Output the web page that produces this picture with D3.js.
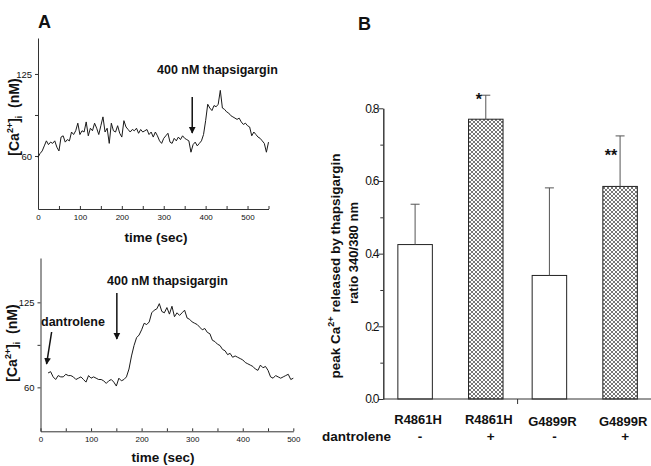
<!DOCTYPE html>
<html>
<head>
<meta charset="utf-8">
<script src="https://cdn.jsdelivr.net/npm/d3@7"></script>
<style>
  body { margin: 0; background: #fff; }
  svg text { font-family: "Liberation Sans", Arial, sans-serif; fill: #111; }
  .bold { font-weight: bold; }
</style>
</head>
<body>
<svg id="chart" width="651" height="466"></svg>
<script>
// ---- data, panel A (top trace, no dantrolene), sampled every 5 s from t = 0
const topStart = 0, topStep = 5;
const topCa = [59, 62, 64, 68, 72, 69, 71, 70, 72, 67, 64, 75, 76, 71, 73, 72, 79, 77, 80, 86,
  77, 80, 79, 87, 76, 82, 80, 86, 82, 77, 84, 91, 79, 82, 70, 86, 80, 79, 84, 78,
  75, 88, 83, 81, 79, 81, 80, 82, 78, 81, 79, 80, 81, 77, 79, 75, 79, 76, 72, 70,
  74, 76, 78, 71, 70, 74, 72, 75, 73, 76, 74, 73, 72, 63, 69, 71, 68, 70, 72, 77,
  88, 101, 98, 96, 100, 99, 101, 112, 98, 97, 95, 94, 92, 91, 90, 89, 90, 87, 85, 86,
  84, 83, 76, 79, 77, 75, 74, 72, 70, 63, 71];

// ---- data, panel A (bottom trace, with dantrolene), sampled every 5 s from t = 15
const botStart = 15, botStep = 5;
const botCa = [71, 72, 68, 66, 69, 68, 68, 70, 69, 69, 68, 66, 67, 68, 66, 64, 69, 67, 68, 67,
  66, 66, 65, 63, 65, 66, 64, 61, 67, 65, 66, 68, 74, 84, 92, 98, 100, 104, 109, 108,
  110, 117, 119, 120, 124, 118, 117, 121, 116, 122, 114, 117, 115, 117, 119, 113, 112, 110, 109, 108,
  106, 104, 105, 102, 101, 96, 95, 93, 92, 89, 88, 85, 86, 83, 84, 83, 82, 81, 79, 78,
  77, 76, 74, 73, 77, 75, 76, 73, 68, 67, 69, 68, 67, 68, 69, 70, 66, 67];

const caTicks = [60, 92.5, 125];
const caTickLabels = ["60", "", "125"];

// ---- data, panel B
const mutants = ["R4861H", "G4899R"];
const dantrolene = ["-", "+"];
const barMutant = ["R4861H", "R4861H", "G4899R", "G4899R"];
const barDantrolene = ["-", "+", "-", "+"];
const barMean = [0.425, 0.770, 0.340, 0.585];
const barSem = [0.111, 0.066, 0.241, 0.139];
const barSig = ["", "*", "", "**"];
const ratioTicks = [0, 0.2, 0.4, 0.6, 0.8];
const ratioTickLabels = ["0.0", "0.2", "0.4", "0.6", "0.8"];

const svg = d3.select("#chart");

const defs = svg.append("defs");
const pat = defs.append("pattern")
  .attr("id", "hatch")
  .attr("width", 4).attr("height", 4)
  .attr("patternUnits", "userSpaceOnUse");
pat.append("rect").attr("width", 4).attr("height", 4).attr("fill", "#fff");
pat.append("path")
  .attr("d", "M-1,1L1,-1M0,4L4,0M3,5L5,3M-1,3L1,5M0,0L4,4M3,-1L5,1")
  .attr("stroke", "#4a4a4a").attr("stroke-width", 0.75);

const arrowHead = defs.append("marker")
  .attr("id", "arrow")
  .attr("viewBox", "0 0 10 10")
  .attr("refX", 9).attr("refY", 5)
  .attr("markerWidth", 4.5).attr("markerHeight", 5)
  .attr("markerUnits", "strokeWidth")
  .attr("orient", "auto");
arrowHead.append("path").attr("d", "M0,0L10,5L0,10Z").attr("fill", "#111");

// draw one calcium trace panel
function tracePanel(opt) {
  const x = d3.scaleLinear().domain(opt.xDomain).range(opt.xRange);
  const y = d3.scaleLinear().domain(opt.yDomain).range(opt.yRange);

  const xAxis = d3.axisBottom(x)
    .tickValues(d3.range(opt.xDomain[0], opt.xDomain[1] + 1, 50))
    .tickFormat(d => d % 100 === 0 ? d : "")
    .tickSizeInner(-3).tickSizeOuter(0).tickPadding(5);
  const gx = svg.append("g")
    .attr("transform", `translate(0,${opt.yRange[0]})`)
    .call(xAxis);
  gx.selectAll("text").style("font-size", "8px").attr("fill", "#222");

  const yAxis = d3.axisLeft(y)
    .tickValues(caTicks)
    .tickFormat((d, i) => caTickLabels[i])
    .tickSizeInner(3).tickSizeOuter(0).tickPadding(3);
  const gy = svg.append("g")
    .attr("transform", `translate(${opt.xRange[0]},0)`)
    .call(yAxis);
  gy.selectAll("text").style("font-size", "9.5px").attr("fill", "#222");

  [gx, gy].forEach(g => {
    g.select(".domain").attr("stroke", "#333");
    g.selectAll(".tick line").attr("stroke", "#333");
  });

  const line = d3.line()
    .x((d, i) => x(opt.start + i * opt.step))
    .y(d => y(d));
  svg.append("path")
    .datum(opt.values)
    .attr("d", line)
    .attr("fill", "none")
    .attr("stroke", "#1a1a1a")
    .attr("stroke-width", 1)
    .attr("stroke-linejoin", "round");

  // y title
  const yt = svg.append("text")
    .attr("class", "bold")
    .attr("transform", `translate(${opt.yTitleX},${opt.yTitleY}) rotate(-90)`)
    .attr("text-anchor", "middle")
    .style("font-size", "14px");
  yt.append("tspan").text("[Ca");
  yt.append("tspan").attr("dy", -6).style("font-size", "9px").text("2+");
  yt.append("tspan").attr("dy", 6).text("]");
  yt.append("tspan").attr("dy", 3).style("font-size", "9px").text("i");
  yt.append("tspan").attr("dy", -3).text("\u00a0\u00a0(nM)");

  svg.append("text")
    .attr("class", "bold")
    .attr("x", opt.xTitleX).attr("y", opt.xTitleY)
    .attr("text-anchor", "middle")
    .style("font-size", "13.5px")
    .text("time (sec)");

  return { x, y };
}

// ---- panel A, top
const a1 = tracePanel({
  xDomain: [0, 550], xRange: [38, 268.5],
  yDomain: [18, 153.5], yRange: [209, 38],
  start: topStart, step: topStep, values: topCa,
  yTitleX: 19, yTitleY: 117, xTitleX: 156, xTitleY: 242
});

svg.append("text").attr("class", "bold")
  .attr("x", 38).attr("y", 28).style("font-size", "18px").text("A");

svg.append("text").attr("class", "bold")
  .attr("x", 157).attr("y", 73.5).style("font-size", "12.5px")
  .text("400 nM thapsigargin");
svg.append("line")
  .attr("x1", a1.x(368)).attr("x2", a1.x(368))
  .attr("y1", 97).attr("y2", 133)
  .attr("stroke", "#111").attr("stroke-width", 1.5)
  .attr("marker-end", "url(#arrow)");

// ---- panel A, bottom
const a2 = tracePanel({
  xDomain: [0, 500], xRange: [40.5, 293.3],
  yDomain: [26.4, 158.9], yRange: [431.3, 258],
  start: botStart, step: botStep, values: botCa,
  yTitleX: 17, yTitleY: 343, xTitleX: 163, xTitleY: 462
});

svg.append("text").attr("class", "bold")
  .attr("x", 107).attr("y", 285).style("font-size", "12.5px")
  .text("400 nM thapsigargin");
svg.append("line")
  .attr("x1", a2.x(151)).attr("x2", a2.x(151))
  .attr("y1", 293).attr("y2", 339)
  .attr("stroke", "#111").attr("stroke-width", 1.5)
  .attr("marker-end", "url(#arrow)");

svg.append("text").attr("class", "bold")
  .attr("x", 41).attr("y", 325.5).style("font-size", "12.5px")
  .text("dantrolene");
svg.append("line")
  .attr("x1", a2.x(22)).attr("x2", a2.x(12))
  .attr("y1", 332).attr("y2", 364)
  .attr("stroke", "#111").attr("stroke-width", 1.5)
  .attr("marker-end", "url(#arrow)");

// ---- panel B
const bx0 = d3.scaleBand().domain(mutants).range([383.3, 651.9]).padding(0);
const bx1 = d3.scalePoint().domain(dantrolene).range([0, bx0.bandwidth()]).padding(0.45);
const by = d3.scaleLinear().domain([0, 0.8]).range([399, 108.3]);
const barW = 34.5;
const cx = i => bx0(barMutant[i]) + bx1(barDantrolene[i]);

svg.append("text").attr("class", "bold")
  .attr("x", 358).attr("y", 30).style("font-size", "18px").text("B");

const bars = svg.append("g");
bars.selectAll("rect")
  .data(barMean)
  .join("rect")
  .attr("x", (d, i) => cx(i) - barW / 2)
  .attr("y", d => by(d))
  .attr("width", barW)
  .attr("height", d => by(0) - by(d))
  .attr("fill", (d, i) => barDantrolene[i] === "+" ? "url(#hatch)" : "#fff")
  .attr("stroke", "#222")
  .attr("stroke-width", 1);

// error bars (upper only)
const eb = svg.append("g").attr("stroke", "#555").attr("stroke-width", 1);
barMean.forEach((m, i) => {
  eb.append("line")
    .attr("x1", cx(i)).attr("x2", cx(i))
    .attr("y1", by(m)).attr("y2", by(m + barSem[i]));
  eb.append("line")
    .attr("x1", cx(i) - 4.5).attr("x2", cx(i) + 4.5)
    .attr("y1", by(m + barSem[i])).attr("y2", by(m + barSem[i]));
});

// significance marks
barSig.forEach((s, i) => {
  if (!s) return;
  const top = by(barMean[i] + barSem[i]);
  svg.append("text").attr("class", "bold")
    .attr("x", cx(i) - (s.length === 1 ? 7 : 9))
    .attr("y", s.length === 1 ? top + 9.5 : top + 25.5)
    .attr("text-anchor", "middle")
    .style("font-size", "16px")
    .text(s);
});

// y axis
const byMinor = d3.axisLeft(by).tickValues([0.1, 0.3, 0.5, 0.7]).tickFormat("").tickSizeInner(3).tickSizeOuter(0);
const byMajor = d3.axisLeft(by).tickValues(ratioTicks)
  .tickFormat((d, i) => ratioTickLabels[i]).tickSizeInner(5).tickSizeOuter(0).tickPadding(0);
svg.append("g").attr("transform", "translate(383.3,0)").call(byMinor);
const gby = svg.append("g").attr("transform", "translate(383.3,0)").call(byMajor);
gby.selectAll("text").style("font-size", "12px").style("letter-spacing", "-1.2px").attr("fill", "#222");
svg.selectAll(".domain, .tick line").attr("stroke", "#333");

// x axis
svg.append("line")
  .attr("x1", bx0.range()[0]).attr("x2", bx0.range()[1])
  .attr("y1", by(0)).attr("y2", by(0))
  .attr("stroke", "#333");
svg.append("line")
  .attr("x1", bx0("G4899R")).attr("x2", bx0("G4899R"))
  .attr("y1", by(0)).attr("y2", by(0) + 5)
  .attr("stroke", "#333");

svg.append("g").selectAll("text")
  .data(barMutant)
  .join("text")
  .attr("class", "bold")
  .attr("x", (d, i) => cx(i) + 3)
  .attr("y", (d, i) => d === "G4899R" ? 425.5 : 424)
  .attr("text-anchor", "middle")
  .style("font-size", "13px")
  .text(d => d);

svg.append("g").selectAll("text")
  .data(barDantrolene)
  .join("text")
  .attr("class", "bold")
  .attr("x", (d, i) => cx(i) + 5)
  .attr("y", 441)
  .attr("text-anchor", "middle")
  .style("font-size", "13.5px")
  .text(d => d);

svg.append("text").attr("class", "bold")
  .attr("x", 391).attr("y", 441)
  .attr("text-anchor", "end")
  .style("font-size", "13.5px")
  .text("dantrolene");

// y title, two lines
const bt = svg.append("text").attr("class", "bold")
  .attr("transform", "translate(340,266) rotate(-90)")
  .attr("text-anchor", "middle")
  .style("font-size", "13.5px");
bt.append("tspan").text("peak Ca");
bt.append("tspan").attr("dy", -6).style("font-size", "9px").text("2+");
bt.append("tspan").attr("dy", 6).text(" released by thapsigargin");

svg.append("text").attr("class", "bold")
  .attr("transform", "translate(358,253) rotate(-90)")
  .attr("text-anchor", "middle")
  .style("font-size", "13px")
  .text("ratio 340/380 nm");
</script>
</body>
</html>
